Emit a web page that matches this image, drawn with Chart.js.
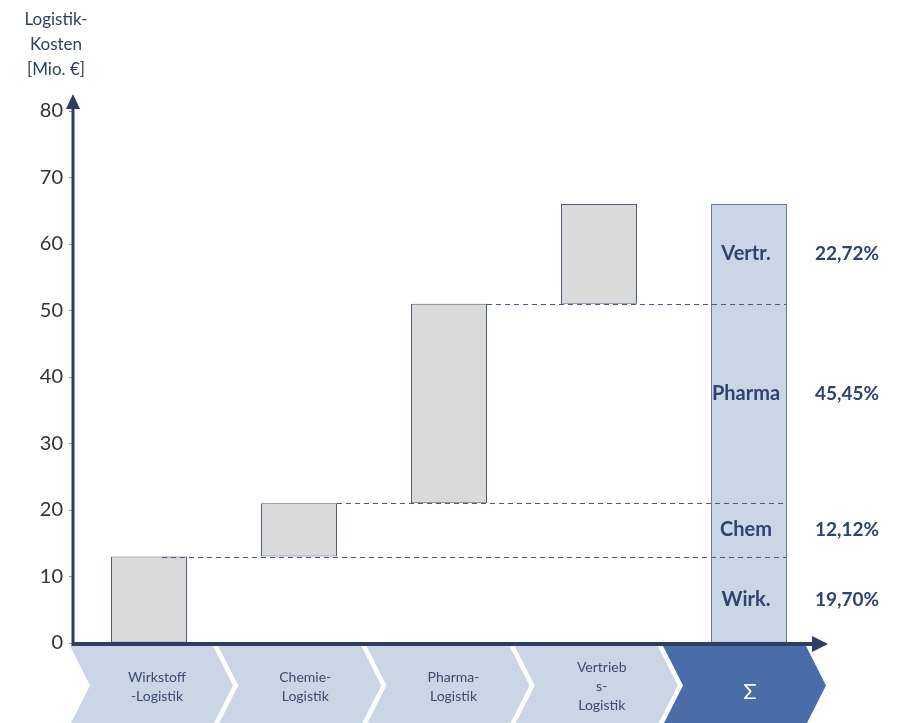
<!DOCTYPE html>
<html>
<head>
<meta charset="utf-8">
<script src="https://cdn.jsdelivr.net/npm/chart.js@4"></script>
<style>
  html, body { margin: 0; padding: 0; background: #fff; }
  #wrap { width: 899px; height: 723px; position: relative; }
</style>
</head>
<body>
<div id="wrap"><canvas id="waterfall"></canvas></div>
<script>
// categories (multi-line) and their cost steps in Mio. €
var categories = [['Wirkstoff', '-Logistik'], ['Chemie-', 'Logistik'], ['Pharma-', 'Logistik'], ['Vertrieb', 's-', 'Logistik'], 'Σ'];
var costs = [13, 8, 30, 15];
var shortNames = ['Wirk.', 'Chem', 'Pharma', 'Vertr.'];
var shares = ['19,70%', '12,12%', '45,45%', '22,72%'];
var yTicks = [0, 10, 20, 30, 40, 50, 60, 70, 80];
var yTitle = ['Logistik-', 'Kosten', '[Mio. €]'];

var FONT = 'Lato, "Open Sans", sans-serif';
var AXIS = '#2c3e63';
var TEXT = '#2e4470';

// floating bars: each step starts where the previous ended, last one is the total
var ranges = [];
var run = 0;
costs.forEach(function (c) { ranges.push([run, run + c]); run += c; });
ranges.push([0, run]);

var fills = ['#dadada', '#dadada', '#dadada', '#dadada', '#cad5e6'];
var borders = ['#4a5a78', '#4a5a78', '#4a5a78', '#4a5a78', '#6a7a98'];

var decor = {
  id: 'decor',
  afterDatasetsDraw: function (chart) {
    var ctx = chart.ctx, x = chart.scales.x, y = chart.scales.y;
    var area = chart.chartArea;
    var meta = chart.getDatasetMeta(0);
    var sumBar = meta.data[meta.data.length - 1];
    var sumRight = sumBar.x + sumBar.width / 2;

    ctx.save();
    // dashed connectors, drawn over the total bar
    ctx.strokeStyle = '#4a5a7a';
    ctx.lineWidth = 1;
    ctx.setLineDash([5, 4]);
    for (var i = 0; i < costs.length - 1; i++) {
      var b = meta.data[i];
      var yy = Math.round(y.getPixelForValue(ranges[i][1])) + 0.5;
      ctx.beginPath();
      ctx.moveTo(b.x + (i === 0 ? 13 : b.width / 2), yy);
      ctx.lineTo(sumRight - 1, yy);
      ctx.stroke();
    }
    ctx.setLineDash([]);

    // labels inside the total bar and shares to the right
    ctx.textAlign = 'center';
    ctx.textBaseline = 'middle';
    ctx.fillStyle = TEXT;
    for (var i = 0; i < costs.length; i++) {
      var mid = (ranges[i][0] + ranges[i][1]) / 2;
      var py = y.getPixelForValue(mid);
      if (i === 2) py -= 10;
      ctx.font = 'bold 20px ' + FONT;
      ctx.fillText(shortNames[i], sumBar.x - 3, py);
      ctx.font = 'bold 19px ' + FONT;
      ctx.fillText(shares[i], sumBar.x + 98, py);
    }

    // chevron band
    var top = area.bottom + 3, bot = chart.height + 2, midY = (top + bot) / 2;
    var depth = 20;
    for (var k = 0; k < categories.length; k++) {
      var l = x.getPixelForValue(k) - 79 - k * 1.75;
      var r = l + 143;
      ctx.beginPath();
      ctx.moveTo(l, top);
      ctx.lineTo(r, top);
      ctx.lineTo(r + depth, midY);
      ctx.lineTo(r, bot);
      ctx.lineTo(l, bot);
      ctx.lineTo(l + depth, midY);
      ctx.closePath();
      var last = k === categories.length - 1;
      ctx.fillStyle = last ? '#4a6daa' : '#cad5e6';
      ctx.fill();
      var lines = Array.isArray(categories[k]) ? categories[k] : [categories[k]];
      ctx.fillStyle = last ? '#ffffff' : '#3b4c6e';
      ctx.font = last ? '22px ' + FONT : '14px ' + FONT;
      var lh = 19;
      var cx = l + 87;
      var y0 = midY + 1 - (lines.length - 1) * lh / 2;
      lines.forEach(function (t, j) { ctx.fillText(t, cx, y0 + j * lh + (last ? 5 : 0)); });
    }

    // axes with arrows
    ctx.fillStyle = AXIS;
    ctx.strokeStyle = AXIS;
    ctx.lineWidth = 3;
    var ax = area.left - 1;
    var ay = area.bottom + 1;
    ctx.beginPath();
    ctx.moveTo(ax, ay + 2);
    ctx.lineTo(ax, area.top - 8);
    ctx.stroke();
    ctx.beginPath();
    ctx.moveTo(ax - 7, area.top - 2);
    ctx.lineTo(ax, area.top - 17);
    ctx.lineTo(ax + 7, area.top - 2);
    ctx.closePath();
    ctx.fill();
    ctx.lineWidth = 4;
    ctx.beginPath();
    ctx.moveTo(ax - 1, ay);
    ctx.lineTo(area.right - 10, ay);
    ctx.stroke();
    ctx.beginPath();
    ctx.moveTo(area.right - 12, ay - 8);
    ctx.lineTo(area.right + 4, ay);
    ctx.lineTo(area.right - 12, ay + 8);
    ctx.closePath();
    ctx.fill();

    // y axis title
    ctx.fillStyle = '#2e3f5f';
    ctx.font = '17px ' + FONT;
    yTitle.forEach(function (t, j) { ctx.fillText(t, 56, 20 + j * 25); });
    ctx.restore();
  }
};

new Chart(document.getElementById('waterfall').getContext('2d'), {
  type: 'bar',
  data: {
    labels: categories,
    datasets: [{
      data: ranges,
      backgroundColor: fills,
      borderColor: borders,
      borderWidth: 1,
      borderSkipped: false,
      categoryPercentage: 1,
      barPercentage: 0.507
    }]
  },
  options: {
    responsive: true,
    maintainAspectRatio: false,
    animation: false,
    layout: { padding: { top: 111, right: 75, left: 0, bottom: 0 } },
    plugins: { legend: { display: false }, tooltip: { enabled: false } },
    scales: {
      x: {
        grid: { display: false },
        border: { display: false },
        ticks: { display: false },
        afterFit: function (s) { s.height = 80; }
      },
      y: {
        min: 0,
        max: 80,
        afterBuildTicks: function (s) { s.ticks = yTicks.map(function (v) { return { value: v }; }); },
        grid: { drawOnChartArea: false, drawTicks: true, tickLength: 5, color: '#999' },
        border: { display: false },
        ticks: { color: '#333', font: { family: FONT, size: 20 }, padding: 6 },
        afterFit: function (s) { s.width = 74; }
      }
    }
  },
  plugins: [decor]
});
</script>
</body>
</html>
